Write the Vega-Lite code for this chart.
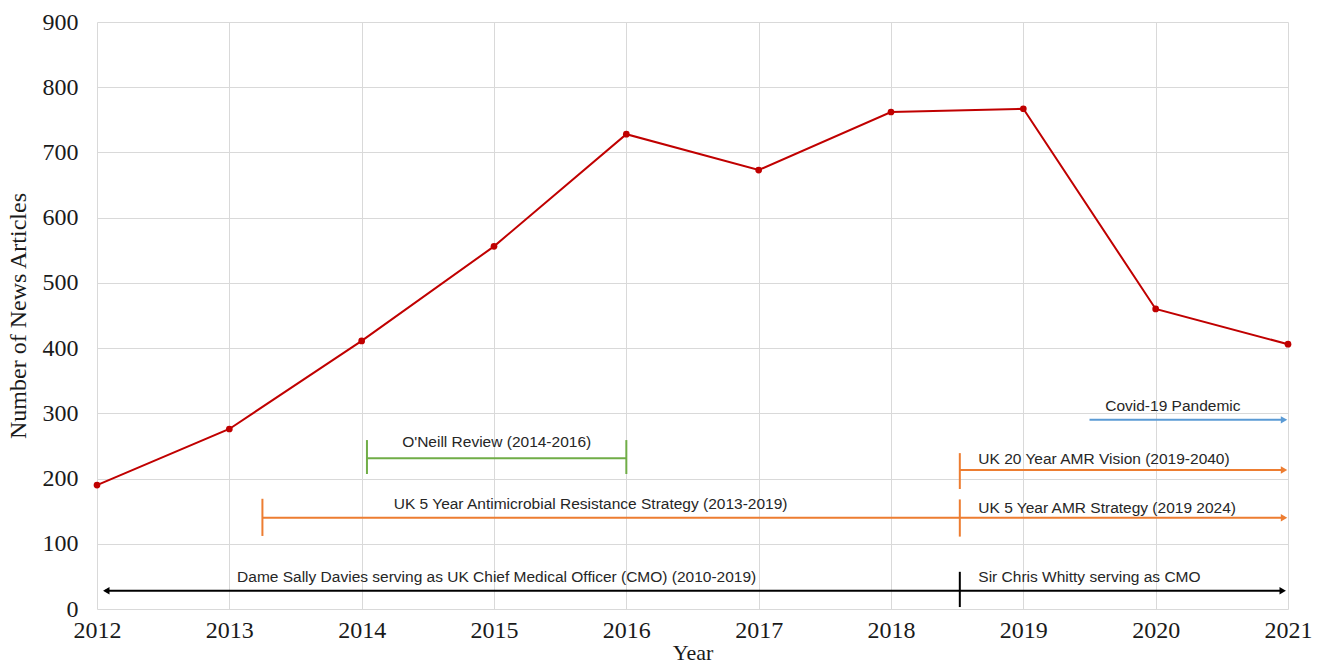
{
  "$schema": "https://vega.github.io/schema/vega-lite/v6.json",
  "width": 1191,
  "height": 587,
  "autosize": {"type": "none"},
  "padding": {"left": 97, "top": 22, "right": 39, "bottom": 57},
  "background": "white",
  "config": {
    "view": {"stroke": null},
    "axis": {"gridColor": "#d9d9d9", "gridWidth": 1, "domain": false, "ticks": false, "labelFlush": false, "labelOverlap": false, "labelFont": "Liberation Serif", "labelFontSize": 24, "labelColor": "#1a1a1a", "titleFont": "Liberation Serif", "titleFontSize": 24, "titleFontWeight": "normal", "titleColor": "#1a1a1a"}
  },
  "datasets": {
    "counts": [
      {"year": 2012, "articles": 190},
      {"year": 2013, "articles": 276},
      {"year": 2014, "articles": 411},
      {"year": 2015, "articles": 556},
      {"year": 2016, "articles": 728},
      {"year": 2017, "articles": 673},
      {"year": 2018, "articles": 762},
      {"year": 2019, "articles": 767},
      {"year": 2020, "articles": 460},
      {"year": 2021, "articles": 406}
    ],
    "segments": [
      {"group": "cmo", "start": 2012.06, "end": 2020.96, "level": 28},
      {"group": "strategy", "start": 2013.25, "end": 2020.96, "level": 140},
      {"group": "strategy", "start": 2018.52, "end": 2020.96, "level": 213},
      {"group": "oneill", "start": 2014.04, "end": 2016.0, "level": 231},
      {"group": "covid", "start": 2019.5, "end": 2020.96, "level": 290}
    ],
    "ticks": [
      {"group": "cmo", "at": 2018.52, "low": 3, "high": 57},
      {"group": "strategy", "at": 2013.25, "low": 112, "high": 169},
      {"group": "strategy", "at": 2018.52, "low": 111, "high": 168},
      {"group": "strategy", "at": 2018.52, "low": 184, "high": 239},
      {"group": "oneill", "at": 2014.04, "low": 207, "high": 259},
      {"group": "oneill", "at": 2016.0, "low": 207, "high": 259}
    ],
    "arrows": [
      {"group": "cmo", "at": 2012.07, "level": 28, "dir": "left"},
      {"group": "cmo", "at": 2020.96, "level": 28, "dir": "right"},
      {"group": "strategy", "at": 2020.97, "level": 140, "dir": "right"},
      {"group": "strategy", "at": 2020.97, "level": 213, "dir": "right"},
      {"group": "covid", "at": 2020.97, "level": 290, "dir": "right"}
    ],
    "labels": [
      {"at": 2015.02, "level": 49, "label": "Dame Sally Davies serving as UK Chief Medical Officer (CMO) (2010-2019)", "anchor": "center"},
      {"at": 2018.66, "level": 49, "label": "Sir Chris Whitty serving as CMO", "anchor": "left"},
      {"at": 2015.73, "level": 161, "label": "UK 5 Year Antimicrobial Resistance Strategy (2013-2019)", "anchor": "center"},
      {"at": 2018.66, "level": 155, "label": "UK 5 Year AMR Strategy (2019 2024)", "anchor": "left"},
      {"at": 2018.66, "level": 230, "label": "UK 20 Year AMR Vision (2019-2040)", "anchor": "left"},
      {"at": 2015.02, "level": 256, "label": "O'Neill Review (2014-2016)", "anchor": "center"},
      {"at": 2020.13, "level": 311, "label": "Covid-19 Pandemic", "anchor": "center"}
    ]
  },
  "layer": [
    {
      "data": {"name": "counts"},
      "mark": {"type": "line", "color": "#C00000", "strokeWidth": 2},
      "encoding": {
        "x": {"field": "year", "type": "quantitative", "scale": {"domain": [2012, 2021], "nice": false, "zero": false}, "axis": {"values": [2012, 2013, 2014, 2015, 2016, 2017, 2018, 2019, 2020, 2021], "format": "d", "title": "Year", "titleFontSize": 22, "labelPadding": 9, "titlePadding": 0}},
        "y": {"field": "articles", "type": "quantitative", "scale": {"domain": [0, 900], "nice": false}, "axis": {"values": [0, 100, 200, 300, 400, 500, 600, 700, 800, 900], "title": "Number of News Articles", "labelPadding": 19, "titlePadding": 12}}
      }
    },
    {
      "data": {"name": "counts"},
      "mark": {"type": "point", "filled": true, "color": "#C00000", "size": 45, "opacity": 1},
      "encoding": {
        "x": {"field": "year", "type": "quantitative"},
        "y": {"field": "articles", "type": "quantitative"}
      }
    },
    {
      "data": {"name": "segments"},
      "mark": {"type": "rule", "strokeWidth": 2},
      "encoding": {
        "x": {"field": "start", "type": "quantitative"},
        "x2": {"field": "end"},
        "y": {"field": "level", "type": "quantitative"},
        "color": {"field": "group", "type": "nominal", "scale": {"domain": ["cmo", "strategy", "oneill", "covid"], "range": ["#000000", "#ED7D31", "#70AD47", "#5B9BD5"]}, "legend": null},
        "strokeWidth": {"field": "group", "type": "nominal", "scale": {"domain": ["cmo", "strategy", "oneill", "covid"], "range": [2.8, 2, 2, 2]}, "legend": null}
      }
    },
    {
      "data": {"name": "ticks"},
      "mark": {"type": "rule", "strokeWidth": 2},
      "encoding": {
        "x": {"field": "at", "type": "quantitative"},
        "y": {"field": "low", "type": "quantitative"},
        "y2": {"field": "high"},
        "color": {"field": "group", "type": "nominal", "legend": null}
      }
    },
    {
      "data": {"name": "arrows"},
      "mark": {"type": "point", "filled": true, "opacity": 1, "size": 55},
      "encoding": {
        "x": {"field": "at", "type": "quantitative"},
        "y": {"field": "level", "type": "quantitative"},
        "shape": {"field": "dir", "type": "nominal", "scale": {"domain": ["left", "right"], "range": ["triangle-left", "triangle-right"]}, "legend": null},
        "color": {"field": "group", "type": "nominal", "legend": null}
      }
    },
    {
      "data": {"name": "labels"},
      "transform": [{"filter": "datum.anchor === 'center'"}],
      "mark": {"type": "text", "font": "Liberation Sans", "fontSize": 15.5, "color": "#262626", "align": "center", "baseline": "middle"},
      "encoding": {
        "x": {"field": "at", "type": "quantitative"},
        "y": {"field": "level", "type": "quantitative"},
        "text": {"field": "label"}
      }
    },
    {
      "data": {"name": "labels"},
      "transform": [{"filter": "datum.anchor === 'left'"}],
      "mark": {"type": "text", "font": "Liberation Sans", "fontSize": 15.5, "color": "#262626", "align": "left", "baseline": "middle"},
      "encoding": {
        "x": {"field": "at", "type": "quantitative"},
        "y": {"field": "level", "type": "quantitative"},
        "text": {"field": "label"}
      }
    }
  ]
}
